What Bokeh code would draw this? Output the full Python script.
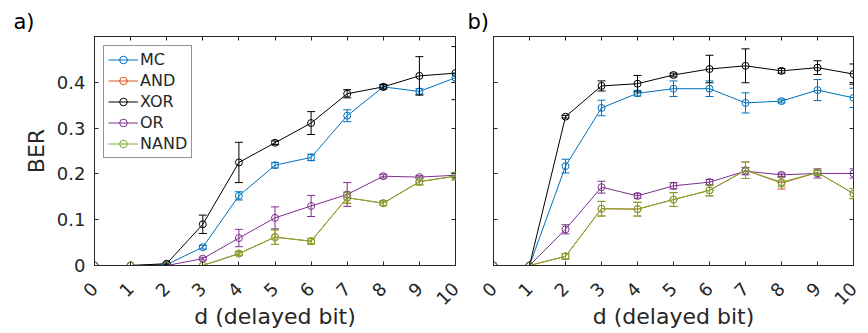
import numpy as np
from bokeh.plotting import figure
from bokeh.models import (ColumnDataSource, Range1d, LinearAxis, FixedTicker,
                          Legend, LegendItem, CustomLabelingPolicy)
from bokeh.layouts import row
from bokeh.embed import file_html
from bokeh.resources import INLINE

# ---------------- data ----------------
delay = [0, 1, 2, 3, 4, 5, 6, 7, 8, 9, 10]
y_ticks = [0, 0.1, 0.2, 0.3, 0.4]
series_names = ["MC", "AND", "XOR", "OR", "NAND"]
series_colors = ["#0072BD", "#D95319", "#000000", "#7E2F8E", "#77AC30"]

# panel a
mc_a = [0, 0, 0.002, 0.040, 0.152, 0.219, 0.236, 0.327, 0.390, 0.380, 0.410]
mc_a_err = [0, 0, 0.001, 0.004, 0.009, 0.006, 0.007, 0.013, 0.004, 0.006, 0.010]
and_a = [0, 0, 0, 0, 0.026, 0.062, 0.053, 0.148, 0.136, 0.183, 0.195]
and_a_err = [0, 0, 0, 0, 0.004, 0.016, 0.006, 0.012, 0.005, 0.007, 0.008]
xor_a = [0, 0, 0.004, 0.090, 0.225, 0.268, 0.311, 0.375, 0.390, 0.414, 0.420]
xor_a_err = [0, 0, 0.002, 0.020, 0.044, 0.004, 0.025, 0.009, 0.005, 0.042, 0.058]
or_a = [0, 0, 0, 0.015, 0.060, 0.104, 0.130, 0.155, 0.195, 0.193, 0.197]
or_a_err = [0, 0, 0, 0.003, 0.019, 0.024, 0.023, 0.026, 0.004, 0.003, 0.005]
nand_a = [0, 0, 0, 0, 0.026, 0.062, 0.053, 0.148, 0.136, 0.183, 0.195]
nand_a_err = [0, 0, 0, 0, 0.004, 0.016, 0.006, 0.012, 0.005, 0.007, 0.008]

# panel b
mc_b = [0, 0, 0.217, 0.344, 0.376, 0.386, 0.386, 0.355, 0.359, 0.383, 0.366]
mc_b_err = [0, 0, 0.015, 0.017, 0.006, 0.017, 0.017, 0.022, 0.004, 0.023, 0.021]
and_b = [0, 0, 0.020, 0.124, 0.123, 0.144, 0.164, 0.208, 0.180, 0.203, 0.157]
and_b_err = [0, 0, 0.006, 0.016, 0.015, 0.015, 0.012, 0.018, 0.013, 0.005, 0.011]
xor_b = [0, 0, 0.325, 0.392, 0.397, 0.416, 0.429, 0.436, 0.425, 0.432, 0.418]
xor_b_err = [0, 0, 0.003, 0.011, 0.018, 0.004, 0.030, 0.037, 0.005, 0.015, 0.022]
or_b = [0, 0, 0.079, 0.171, 0.152, 0.174, 0.182, 0.206, 0.198, 0.201, 0.201]
or_b_err = [0, 0, 0.010, 0.013, 0.005, 0.007, 0.006, 0.008, 0.004, 0.010, 0.010]
nand_b = [0, 0, 0.020, 0.124, 0.123, 0.144, 0.164, 0.208, 0.182, 0.203, 0.157]
nand_b_err = [0, 0, 0.006, 0.016, 0.015, 0.015, 0.012, 0.018, 0.010, 0.005, 0.011]

panel_a = [(mc_a, mc_a_err), (and_a, and_a_err), (xor_a, xor_a_err),
           (or_a, or_a_err), (nand_a, nand_a_err)]
panel_b = [(mc_b, mc_b_err), (and_b, and_b_err), (xor_b, xor_b_err),
           (or_b, or_b_err), (nand_b, nand_b_err)]

FONT = "DejaVu Sans"
TXT = "#262626"
HEIGHT = 332


def hide_labels(ax):
    ax.major_label_policy = CustomLabelingPolicy(code="return new Set()")
    ax.major_label_text_font_size = "0px"
    ax.major_label_standoff = 0


def make_panel(tag, series, width, b_left, b_right, show_ylabels, with_legend, tag_dx):
    p = figure(width=width, height=HEIGHT, x_range=Range1d(0, 10), y_range=Range1d(0, 0.5),
               output_backend="svg", toolbar_location=None,
               min_border_left=b_left, min_border_right=b_right,
               min_border_top=36, min_border_bottom=HEIGHT - 36 - 229)
    p.grid.visible = False
    p.outline_line_color = TXT
    p.outline_line_width = 1
    p.outline_line_alpha = 1
    p.background_fill_color = "white"
    p.border_fill_color = "white"

    p.title.text = tag
    p.title.text_font = FONT
    p.title.text_font_size = "21px"
    p.title.text_font_style = "normal"
    p.title.text_color = "black"
    p.title.align = "left"
    p.title.offset = tag_dx
    p.title.standoff = 6

    xa = p.xaxis[0]
    xa.ticker = FixedTicker(ticks=delay)
    xa.major_label_orientation = np.pi / 4
    xa.axis_label = "d (delayed bit)"
    ya = p.yaxis[0]
    ya.ticker = FixedTicker(ticks=y_ticks)
    ya.major_label_overrides = {0: "0"}
    if show_ylabels:
        ya.axis_label = "BER"
    for ax in (xa, ya):
        ax.axis_line_color = TXT
        ax.major_tick_line_color = TXT
        ax.major_tick_in = 4
        ax.major_tick_out = 0
        ax.minor_tick_line_color = None
        ax.major_label_text_font = FONT
        ax.major_label_text_font_size = "18px"
        ax.major_label_text_color = TXT
        ax.axis_label_text_font = FONT
        ax.axis_label_text_font_size = "22px"
        ax.axis_label_text_font_style = "normal"
        ax.axis_label_text_color = TXT
    xa.major_label_standoff = 20
    xa.axis_label_standoff = -10
    ya.major_label_standoff = 9
    ya.axis_label_standoff = 5
    if not show_ylabels:
        hide_labels(ya)

    # box ticks on top and right
    top = LinearAxis(ticker=FixedTicker(ticks=delay))
    right = LinearAxis(ticker=FixedTicker(ticks=y_ticks))
    for ax in (top, right):
        ax.axis_line_color = None
        ax.major_tick_line_color = TXT
        ax.major_tick_in = 4
        ax.major_tick_out = 0
        ax.minor_tick_line_color = None
        hide_labels(ax)
    p.add_layout(top, "above")
    p.add_layout(right, "right")

    items = []
    for name, color, (vals, errs) in zip(series_names, series_colors, series):
        v = np.array(vals, dtype=float)
        e = np.array(errs, dtype=float)
        src = ColumnDataSource(dict(d=delay, v=v, lo=v - e, hi=v + e))
        lr = p.line("d", "v", source=src, line_color=color, line_width=1)
        p.segment("d", "lo", "d", "hi", source=src, line_color=color, line_width=1)
        p.scatter("d", "lo", source=src, marker="dash", size=8, line_color=color, line_width=1)
        p.scatter("d", "hi", source=src, marker="dash", size=8, line_color=color, line_width=1)
        cr = p.scatter("d", "v", source=src, marker="circle", size=7, line_color=color,
                       fill_color=None, line_width=1)
        items.append(LegendItem(label=name, renderers=[lr, cr]))

    if with_legend:
        leg = Legend(items=items, location="top_left")
        leg.label_text_font = FONT
        leg.label_text_font_size = "16px"
        leg.label_text_color = TXT
        leg.border_line_color = TXT
        leg.border_line_width = 1
        leg.background_fill_color = "white"
        leg.background_fill_alpha = 1
        leg.glyph_width = 30
        leg.glyph_height = 19
        leg.label_height = 19
        leg.label_standoff = 2
        leg.spacing = 2
        leg.padding = 4
        leg.margin = 9
        p.add_layout(leg)

    return p


pa = make_panel("a)", panel_a, 462, 94, 7, True, True, -81)
pb = make_panel("b)", panel_b, 404, 31, 13, False, False, -26)

layout = row(pa, pb)
open("out.html", "w").write(file_html(layout, INLINE))
